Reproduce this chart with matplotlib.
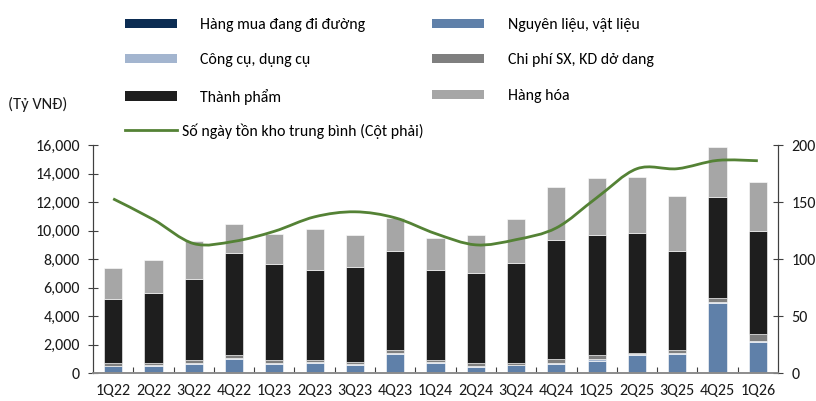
import numpy as np
import matplotlib
matplotlib.use("Agg")
import matplotlib.pyplot as plt
from matplotlib import font_manager as fm
from matplotlib.path import Path
from matplotlib.patches import PathPatch, Patch
from matplotlib.lines import Line2D
from matplotlib.ticker import FuncFormatter, MultipleLocator, FixedLocator

avail = set(f.name for f in fm.fontManager.ttflist)
base = 'Carlito' if 'Carlito' in avail else 'Lato'
fam = [base, 'DejaVu Sans']
plt.rcParams['font.family'] = fam

quarters = ["1Q22", "2Q22", "3Q22", "4Q22", "1Q23", "2Q23", "3Q23", "4Q23", "1Q24",
            "2Q24", "3Q24", "4Q24", "1Q25", "2Q25", "3Q25", "4Q25", "1Q26"]
hang_mua = [10, 10, 10, 10, 10, 10, 10, 10, 10, 10, 10, 10, 10, 10, 10, 10, 10]
nguyen_lieu = [460, 470, 630, 980, 630, 720, 560, 1330, 700, 440, 530, 650, 860, 1240, 1300, 4880, 2190]
cong_cu = [50, 50, 50, 60, 50, 50, 50, 70, 50, 50, 50, 60, 80, 50, 60, 60, 50]
chi_phi = [190, 140, 190, 180, 190, 140, 180, 170, 180, 190, 140, 250, 320, 90, 230, 300, 470]
thanh_pham = [4460, 4940, 5750, 7180, 6780, 6320, 6630, 6990, 6300, 6360, 7000, 8370, 8420, 8450, 6970, 7110, 7230]
hang_hoa = [2220, 2310, 2620, 2060, 2060, 2850, 2220, 2340, 2250, 2650, 3070, 3680, 3960, 3880, 3860, 3490, 3460]
so_ngay = [152.8, 134.6, 113.5, 115.5, 124.3, 137.0, 141.4, 136.1, 122.3, 112.4, 117.0, 127.3, 153.7, 179.2, 179.2, 186.5, 186.2]

labels = ["Hàng mua đang đi đường", "Nguyên liệu, vật liệu", "Công cụ, dụng cụ",
          "Chi phí SX, KD dở dang", "Thành phẩm", "Hàng hóa"]
colors = ["#0B2C52", "#5F80A9", "#A3B5CF", "#7F7F7F", "#1E1E1E", "#A6A6A6"]
line_label = "Số ngày tồn kho trung bình (Cột phải)"
unit_label = "(Tỷ VNĐ)"
line_color = "#548235"

fig = plt.figure(figsize=(8.16, 4.01), dpi=100)
renderer = fig.canvas.get_renderer()

def fit_size(s, target_px, ref=10.0):
    t = fig.text(0, 0, s, fontsize=ref)
    w = t.get_window_extent(renderer).width
    t.remove()
    return ref * target_px / w

fs_tick = fit_size("16,000", 45)
fs_leg = fit_size(labels[0], 165)
fs_unit = fit_size(unit_label, 59)

ax = fig.add_axes([0.114, 0.0698, 0.8394, 0.5686])
ax2 = ax.twinx()

x = np.arange(len(quarters))
series = [hang_mua, nguyen_lieu, cong_cu, chi_phi, thanh_pham, hang_hoa]
bottom = np.zeros(len(quarters))
for vals, c, lab in zip(series, colors, labels):
    v = np.array(vals, dtype=float)
    ax.bar(x, v, width=0.45, bottom=bottom, color=c, edgecolor="white", linewidth=0.4, label=lab, zorder=2)
    bottom += v

def smooth_path(xs, ys, t=1/6):
    xs = np.asarray(xs, float); ys = np.asarray(ys, float)
    n = len(xs)
    verts = [(xs[0], ys[0])]
    codes = [Path.MOVETO]
    for i in range(n - 1):
        p0 = (xs[max(i - 1, 0)], ys[max(i - 1, 0)])
        p1 = (xs[i], ys[i])
        p2 = (xs[i + 1], ys[i + 1])
        p3 = (xs[min(i + 2, n - 1)], ys[min(i + 2, n - 1)])
        c1 = (p1[0] + (p2[0] - p0[0]) * t, p1[1] + (p2[1] - p0[1]) * t)
        c2 = (p2[0] - (p3[0] - p1[0]) * t, p2[1] - (p3[1] - p1[1]) * t)
        verts += [c1, c2, p2]
        codes += [Path.CURVE4] * 3
    return Path(verts, codes)

ax2.add_patch(PathPatch(smooth_path(x, so_ngay), facecolor="none", edgecolor=line_color,
                        linewidth=2.0, capstyle="butt", zorder=3))

ax.set_xlim(-0.5, len(quarters) - 0.5)
ax.set_ylim(0, 16000)
ax2.set_ylim(0, 200)
ax.yaxis.set_major_locator(MultipleLocator(2000))
ax2.yaxis.set_major_locator(MultipleLocator(50))
ax.yaxis.set_major_formatter(FuncFormatter(lambda v, p: f"{int(v):,}"))

ax.set_xticks(x)
ax.set_xticklabels(quarters, fontsize=fs_tick, color="#1a1a1a")
ax.tick_params(axis="x", which="major", length=0, pad=8)
ax.xaxis.set_minor_locator(FixedLocator(np.arange(0.5, len(quarters) - 1, 1.0)))
ax.tick_params(axis="x", which="minor", length=4, direction="in", color="#404040", width=0.8)

spine_c = "#404040"
for a in (ax, ax2):
    a.spines["top"].set_visible(False)
    a.spines["left"].set_color(spine_c)
    a.spines["right"].set_color(spine_c)
    a.spines["bottom"].set_color("#8c8c8c")
    a.spines["bottom"].set_linewidth(1.2)
ax.tick_params(axis="y", direction="inout", length=7, color=spine_c, labelsize=fs_tick, pad=6, labelcolor="#1a1a1a")
ax2.tick_params(axis="y", direction="inout", length=7, color=spine_c, labelsize=fs_tick, pad=6, labelcolor="#1a1a1a")

fig.text(8 / 816, 1 - 104 / 401, unit_label, fontsize=fs_unit, ha="left", va="center", color="#1a1a1a")

h = [Patch(facecolor=c, edgecolor="none") for c in colors]
line_h = Line2D([0], [0], color=line_color, linewidth=2.0)
em = fs_leg * 100 / 72
leg_kw = dict(frameon=False, handlelength=52 / em, handleheight=8 / em, labelspacing=(37.2 - em) / em,
              borderaxespad=0.0, borderpad=0.0, prop={'size': fs_leg})
top_y = 1 - (26 - em / 2) / 401
leg1 = fig.legend([h[0], h[2], h[4]], [labels[0], labels[2], labels[4]], loc="upper left",
                  bbox_to_anchor=(125 / 816, top_y), handletextpad=23 / em, **leg_kw)
leg2 = fig.legend([h[1], h[3], h[5]], [labels[1], labels[3], labels[5]], loc="upper left",
                  bbox_to_anchor=(432 / 816, top_y), handletextpad=24 / em, **leg_kw)
leg3 = fig.legend([line_h], [line_label], loc="upper left",
                  bbox_to_anchor=(125 / 816, 1 - (131 - em / 2) / 401), handletextpad=5 / em, **leg_kw)

fig.savefig("out.png", dpi=100)
